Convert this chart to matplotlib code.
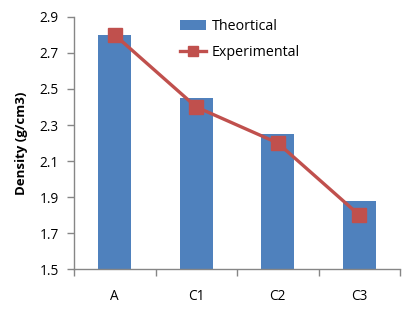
import matplotlib
matplotlib.use("Agg")
import matplotlib.pyplot as plt
import numpy as np

categories = ["A", "C1", "C2", "C3"]
theoretical = [2.80, 2.45, 2.25, 1.88]
experimental = [2.80, 2.40, 2.20, 1.80]
yticks = [1.5, 1.7, 1.9, 2.1, 2.3, 2.5, 2.7, 2.9]

plt.rcParams['font.family'] = ['Open Sans', 'DejaVu Sans']

fig = plt.figure(figsize=(4.09, 3.14), dpi=100)
ax = fig.add_axes([0.181, 0.143, 0.797, 0.803])

x = np.arange(len(categories))
bars = ax.bar(x, theoretical, width=0.41, color="#4F81BD", label="Theortical", zorder=2)
line, = ax.plot(x, experimental, color="#C0504D", lw=2.4, marker="s", markersize=10,
                label="Experimental", zorder=3)

ax.set_ylim(1.5, 2.9)
ax.set_xlim(-0.5, len(categories) - 0.5)
ax.set_yticks(yticks)
ax.set_yticklabels([f"{v:.1f}" for v in yticks], fontsize=9.8)
ax.set_xticks(x)
ax.set_xticklabels(categories, fontsize=9.8)
ax.set_xticks(np.arange(-0.5, len(categories)), minor=True)
ax.tick_params(axis="x", which="major", length=0, pad=14)
ax.tick_params(axis="x", which="minor", length=5, color="#868686", width=1)
ax.tick_params(axis="y", length=5, color="#868686", width=1, pad=6)

for s in ["top", "right"]:
    ax.spines[s].set_visible(False)
for s in ["left", "bottom"]:
    ax.spines[s].set_color("#868686")
    ax.spines[s].set_linewidth(1)

ax.set_ylabel("Density (g/cm3)", fontsize=9.5, fontweight="bold", labelpad=8)

leg = ax.legend([bars, line], ["Theortical", "Experimental"],
                loc="upper left", bbox_to_anchor=(0.325, 0.99), frameon=False,
                fontsize=10.3, handlelength=1.85, labelspacing=0.75,
                handletextpad=0.35, borderpad=0, borderaxespad=0, markerscale=0.75)

fig.savefig("out.png", dpi=100)
